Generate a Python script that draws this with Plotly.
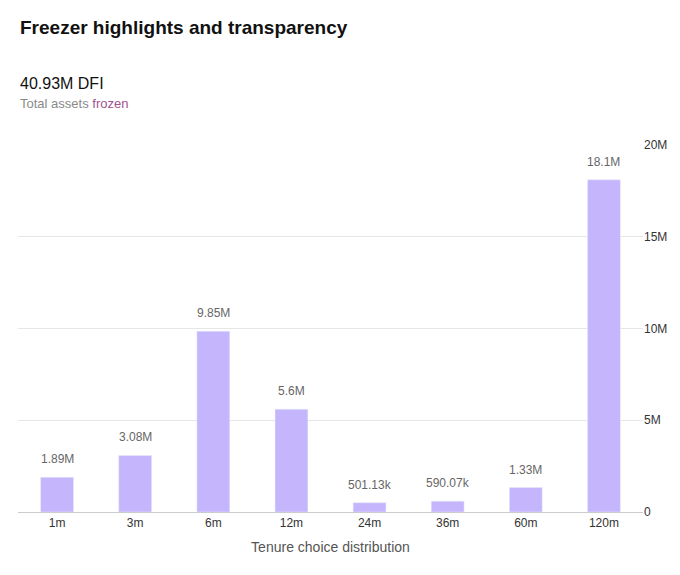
import plotly.graph_objects as go

tenures = ["1m", "3m", "6m", "12m", "24m", "36m", "60m", "120m"]
frozen = [1.89e6, 3.08e6, 9.85e6, 5.6e6, 501.13e3, 590.07e3, 1.33e6, 18.1e6]
bar_labels = ["1.89M", "3.08M", "9.85M", "5.6M", "501.13k", "590.07k", "1.33M", "18.1M"]
tick_vals = [0, 5e6, 10e6, 15e6, 20e6]
tick_text = ["0", "5M", "10M", "15M", "20M"]

FONT = "Liberation Sans, Arial, sans-serif"

fig = go.Figure(go.Bar(
    x=tenures, y=frozen, hoverinfo="skip",
    marker_color="#c4b5fd", width=0.42,
))

# value labels above the bars
for t, v, lab in zip(tenures, frozen, bar_labels):
    fig.add_annotation(x=t, y=v, text=lab, showarrow=False, yanchor="bottom", yshift=9,
                       font=dict(color="#666666", size=12))

fig.update_layout(
    width=680, height=575,
    margin=dict(l=10, r=45, t=137, b=71),
    plot_bgcolor="white", paper_bgcolor="white",
    font=dict(family=FONT, size=12, color="#333333"),
    showlegend=False,
    xaxis=dict(showgrid=False, showline=True, linecolor="#cccccc", ticks="",
               tickfont=dict(color="#333333", size=12),
               title=dict(text="Tenure choice distribution", font=dict(size=14, color="#555555"), standoff=12)),
    yaxis=dict(side="right", range=[0, 20e6], tickvals=tick_vals, ticktext=tick_text,
               gridcolor="#e6e6e6", zeroline=False, tickfont=dict(color="#333333", size=12)),
)

fig.add_annotation(text="<b>Freezer highlights and transparency</b>", xref="paper", yref="paper",
                   x=0, y=1.0, yshift=118, xanchor="left", yanchor="middle", showarrow=False,
                   font=dict(size=19, color="#111111"))
fig.add_annotation(text="40.93M DFI", xref="paper", yref="paper", x=0, y=1.0, yshift=62,
                   xanchor="left", yanchor="middle", showarrow=False, font=dict(size=16, color="#111111"))
fig.add_annotation(text="Total assets <span style='color:#a0528f'>frozen</span>", xref="paper", yref="paper",
                   x=0, y=1.0, yshift=42, xanchor="left", yanchor="middle", showarrow=False,
                   font=dict(size=13, color="#8a8a8a"))

fig.write_html("out.html")
